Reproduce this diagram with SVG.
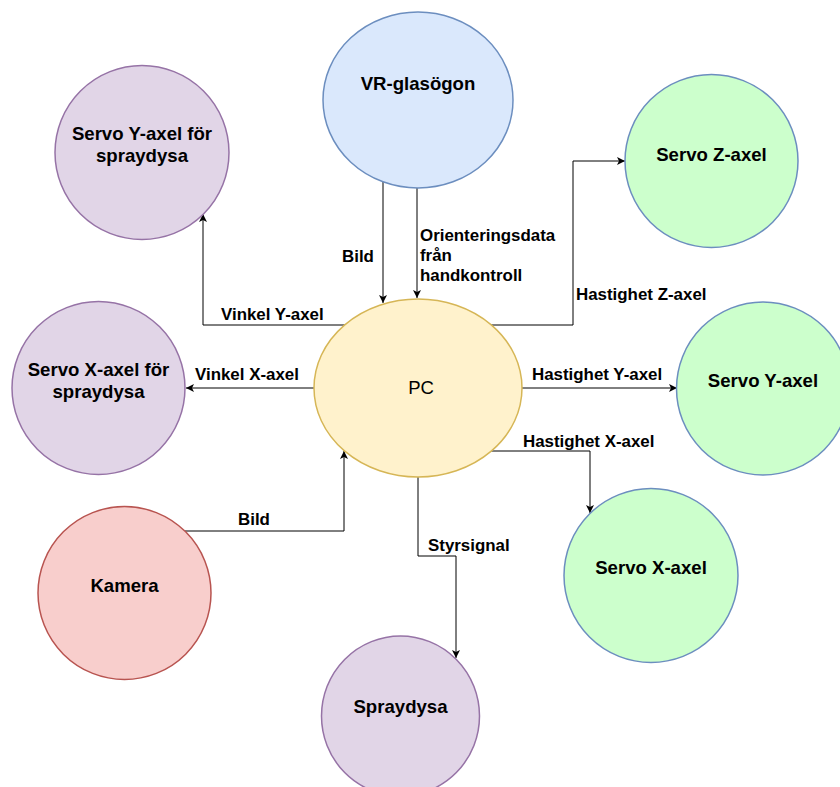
<svg xmlns="http://www.w3.org/2000/svg" width="840" height="787" viewBox="0 0 840 787">
<style>
.n{stroke-width:1.5}
.purple{fill:#e1d5e7;stroke:#9673a6}
.blue{fill:#dae8fc;stroke:#6c8ebf}
.yellow{fill:#fff2cc;stroke:#d6b656}
.red{fill:#f8cecc;stroke:#b85450}
.green{fill:#ccffcc;stroke:#6c8ebf}
.t{font-family:"Liberation Sans",Arial,sans-serif;font-weight:bold;font-size:18.6px;fill:#000;text-anchor:middle}
.pc{font-family:"Liberation Sans",Arial,sans-serif;font-size:18.5px;fill:#000;text-anchor:middle}
.l{font-family:"Liberation Sans",Arial,sans-serif;font-weight:bold;font-size:16.9px;fill:#000}
.e{fill:none;stroke:#000;stroke-width:1;marker-end:url(#a)}
</style>
<defs>
<marker id="a" markerWidth="10" markerHeight="10" refX="8" refY="4" orient="auto" markerUnits="userSpaceOnUse">
<path d="M0,0 L8,4 L0,8 L2,4 Z" fill="#000"/>
</marker>
</defs>
<g id="connectors">
<path class="e" d="M383,182 V303"/>
<path class="e" d="M417,188 V298"/>
<path class="e" d="M345,325 H203 V214"/>
<path class="e" d="M314,388 H186"/>
<path class="e" d="M185,531 H344 V451"/>
<path class="e" d="M418,477 V556 H456 V658"/>
<path class="e" d="M491,451 H590 V513"/>
<path class="e" d="M522,388 H677"/>
<path class="e" d="M491,325 H573 V161 H625"/>
<text class="l" x="342" y="262">Bild</text>
<text class="l" x="420" y="241">Orienteringsdata</text>
<text class="l" x="420" y="261">från</text>
<text class="l" x="420" y="281">handkontroll</text>
<text class="l" x="221" y="320">Vinkel Y-axel</text>
<text class="l" x="195" y="380">Vinkel X-axel</text>
<text class="l" x="238" y="525">Bild</text>
<text class="l" x="428" y="551">Styrsignal</text>
<text class="l" x="523" y="447">Hastighet X-axel</text>
<text class="l" x="532" y="380">Hastighet Y-axel</text>
<text class="l" x="576" y="300">Hastighet Z-axel</text>
</g>
<g id="vr"><ellipse class="n blue" cx="418" cy="100" rx="95" ry="88"/><text class="t" x="418" y="90">VR-glasögon</text></g>
<g id="pc"><ellipse class="n yellow" cx="418" cy="388" rx="104" ry="89"/><text class="pc" x="421" y="394">PC</text></g>
<g id="servo-y-spray"><circle class="n purple" cx="142" cy="152.5" r="87"/><text class="t" x="142" y="140">Servo Y-axel för</text><text class="t" x="142" y="162">spraydysa</text></g>
<g id="servo-x-spray"><circle class="n purple" cx="98.5" cy="388" r="86.5"/><text class="t" x="98.5" y="376">Servo X-axel för</text><text class="t" x="98.5" y="398">spraydysa</text></g>
<g id="kamera"><circle class="n red" cx="124.5" cy="593" r="86.5"/><text class="t" x="124.5" y="592">Kamera</text></g>
<g id="spraydysa"><ellipse class="n purple" cx="400.5" cy="716" rx="79" ry="80"/><text class="t" x="400.5" y="713">Spraydysa</text></g>
<g id="servo-z"><circle class="n green" cx="711.5" cy="161" r="86.5"/><text class="t" x="711.5" y="161">Servo Z-axel</text></g>
<g id="servo-y"><circle class="n green" cx="763" cy="388.5" r="86.5"/><text class="t" x="763" y="387">Servo Y-axel</text></g>
<g id="servo-x"><circle class="n green" cx="651" cy="575.5" r="87"/><text class="t" x="651" y="574">Servo X-axel</text></g>
</svg>
